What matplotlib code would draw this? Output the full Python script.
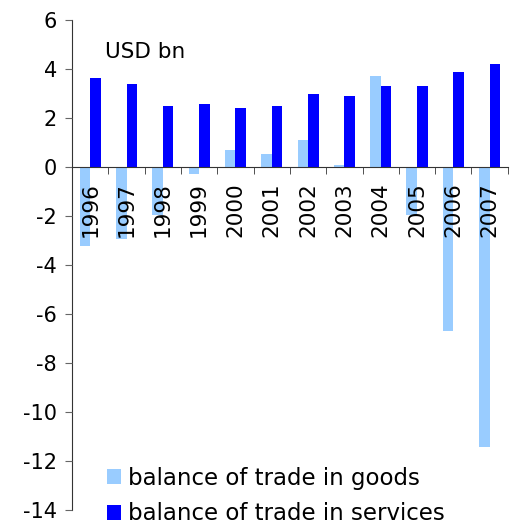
import matplotlib
matplotlib.use("Agg")
import matplotlib.pyplot as plt
import numpy as np

years = ["1996", "1997", "1998", "1999", "2000", "2001", "2002", "2003",
         "2004", "2005", "2006", "2007"]
goods = [-3.24, -2.93, -1.97, -0.29, 0.68, 0.51, 1.09, 0.06, 3.71, -1.95, -6.70, -11.44]
services = [3.63, 3.38, 2.48, 2.56, 2.40, 2.48, 2.97, 2.89, 3.30, 3.30, 3.87, 4.20]
yticks = [-14, -12, -10, -8, -6, -4, -2, 0, 2, 4, 6]

plt.rcParams['font.family'] = ['DejaVu Sans']
plt.rcParams['axes.unicode_minus'] = False

fig = plt.figure(figsize=(5.15, 5.21), dpi=100)
ax = fig.add_axes([0.140, 0.021, 0.846, 0.941])

x = np.arange(len(years))
w = 0.29
ax.bar(x - w / 2, goods, width=w, color="#99CCFF", label="balance of trade in goods", zorder=1)
ax.bar(x + w / 2, services, width=w, color="#0000FF", label="balance of trade in services", zorder=1)
ax.set_axisbelow(False)

ax.set_xlim(-0.5, len(years) - 0.5)
ax.set_ylim(-14, 6)
ax.set_yticks(yticks)
ax.set_yticklabels([str(v) for v in yticks], fontsize=15)

for s in ["top", "right"]:
    ax.spines[s].set_visible(False)
ax.spines["bottom"].set_position(("data", 0))
ax.spines["bottom"].set_zorder(3)
ax.spines["left"].set_color("#333333")
ax.spines["bottom"].set_color("#333333")

ax.set_xticks(x)
ax.set_xticklabels(years, rotation=90, fontsize=15.5)
ax.tick_params(axis="x", which="major", length=0, pad=11)
ax.set_xticks(np.arange(-0.5, len(years), 1.0), minor=True)
ax.tick_params(axis="x", which="minor", length=5, direction="out", color="#333333")
ax.tick_params(axis="y", length=5, direction="out", color="#666666", pad=6)

ax.text(0.075, 0.955, "USD bn", transform=ax.transAxes, fontsize=15.5, va="top", ha="left")

ax.legend(loc="lower left", bbox_to_anchor=(0.058, -0.05), frameon=False, fontsize=16.5,
          handlelength=0.65, handleheight=0.65, handletextpad=0.3, labelspacing=0.55,
          borderaxespad=0)

fig.savefig("out.png", dpi=100)
